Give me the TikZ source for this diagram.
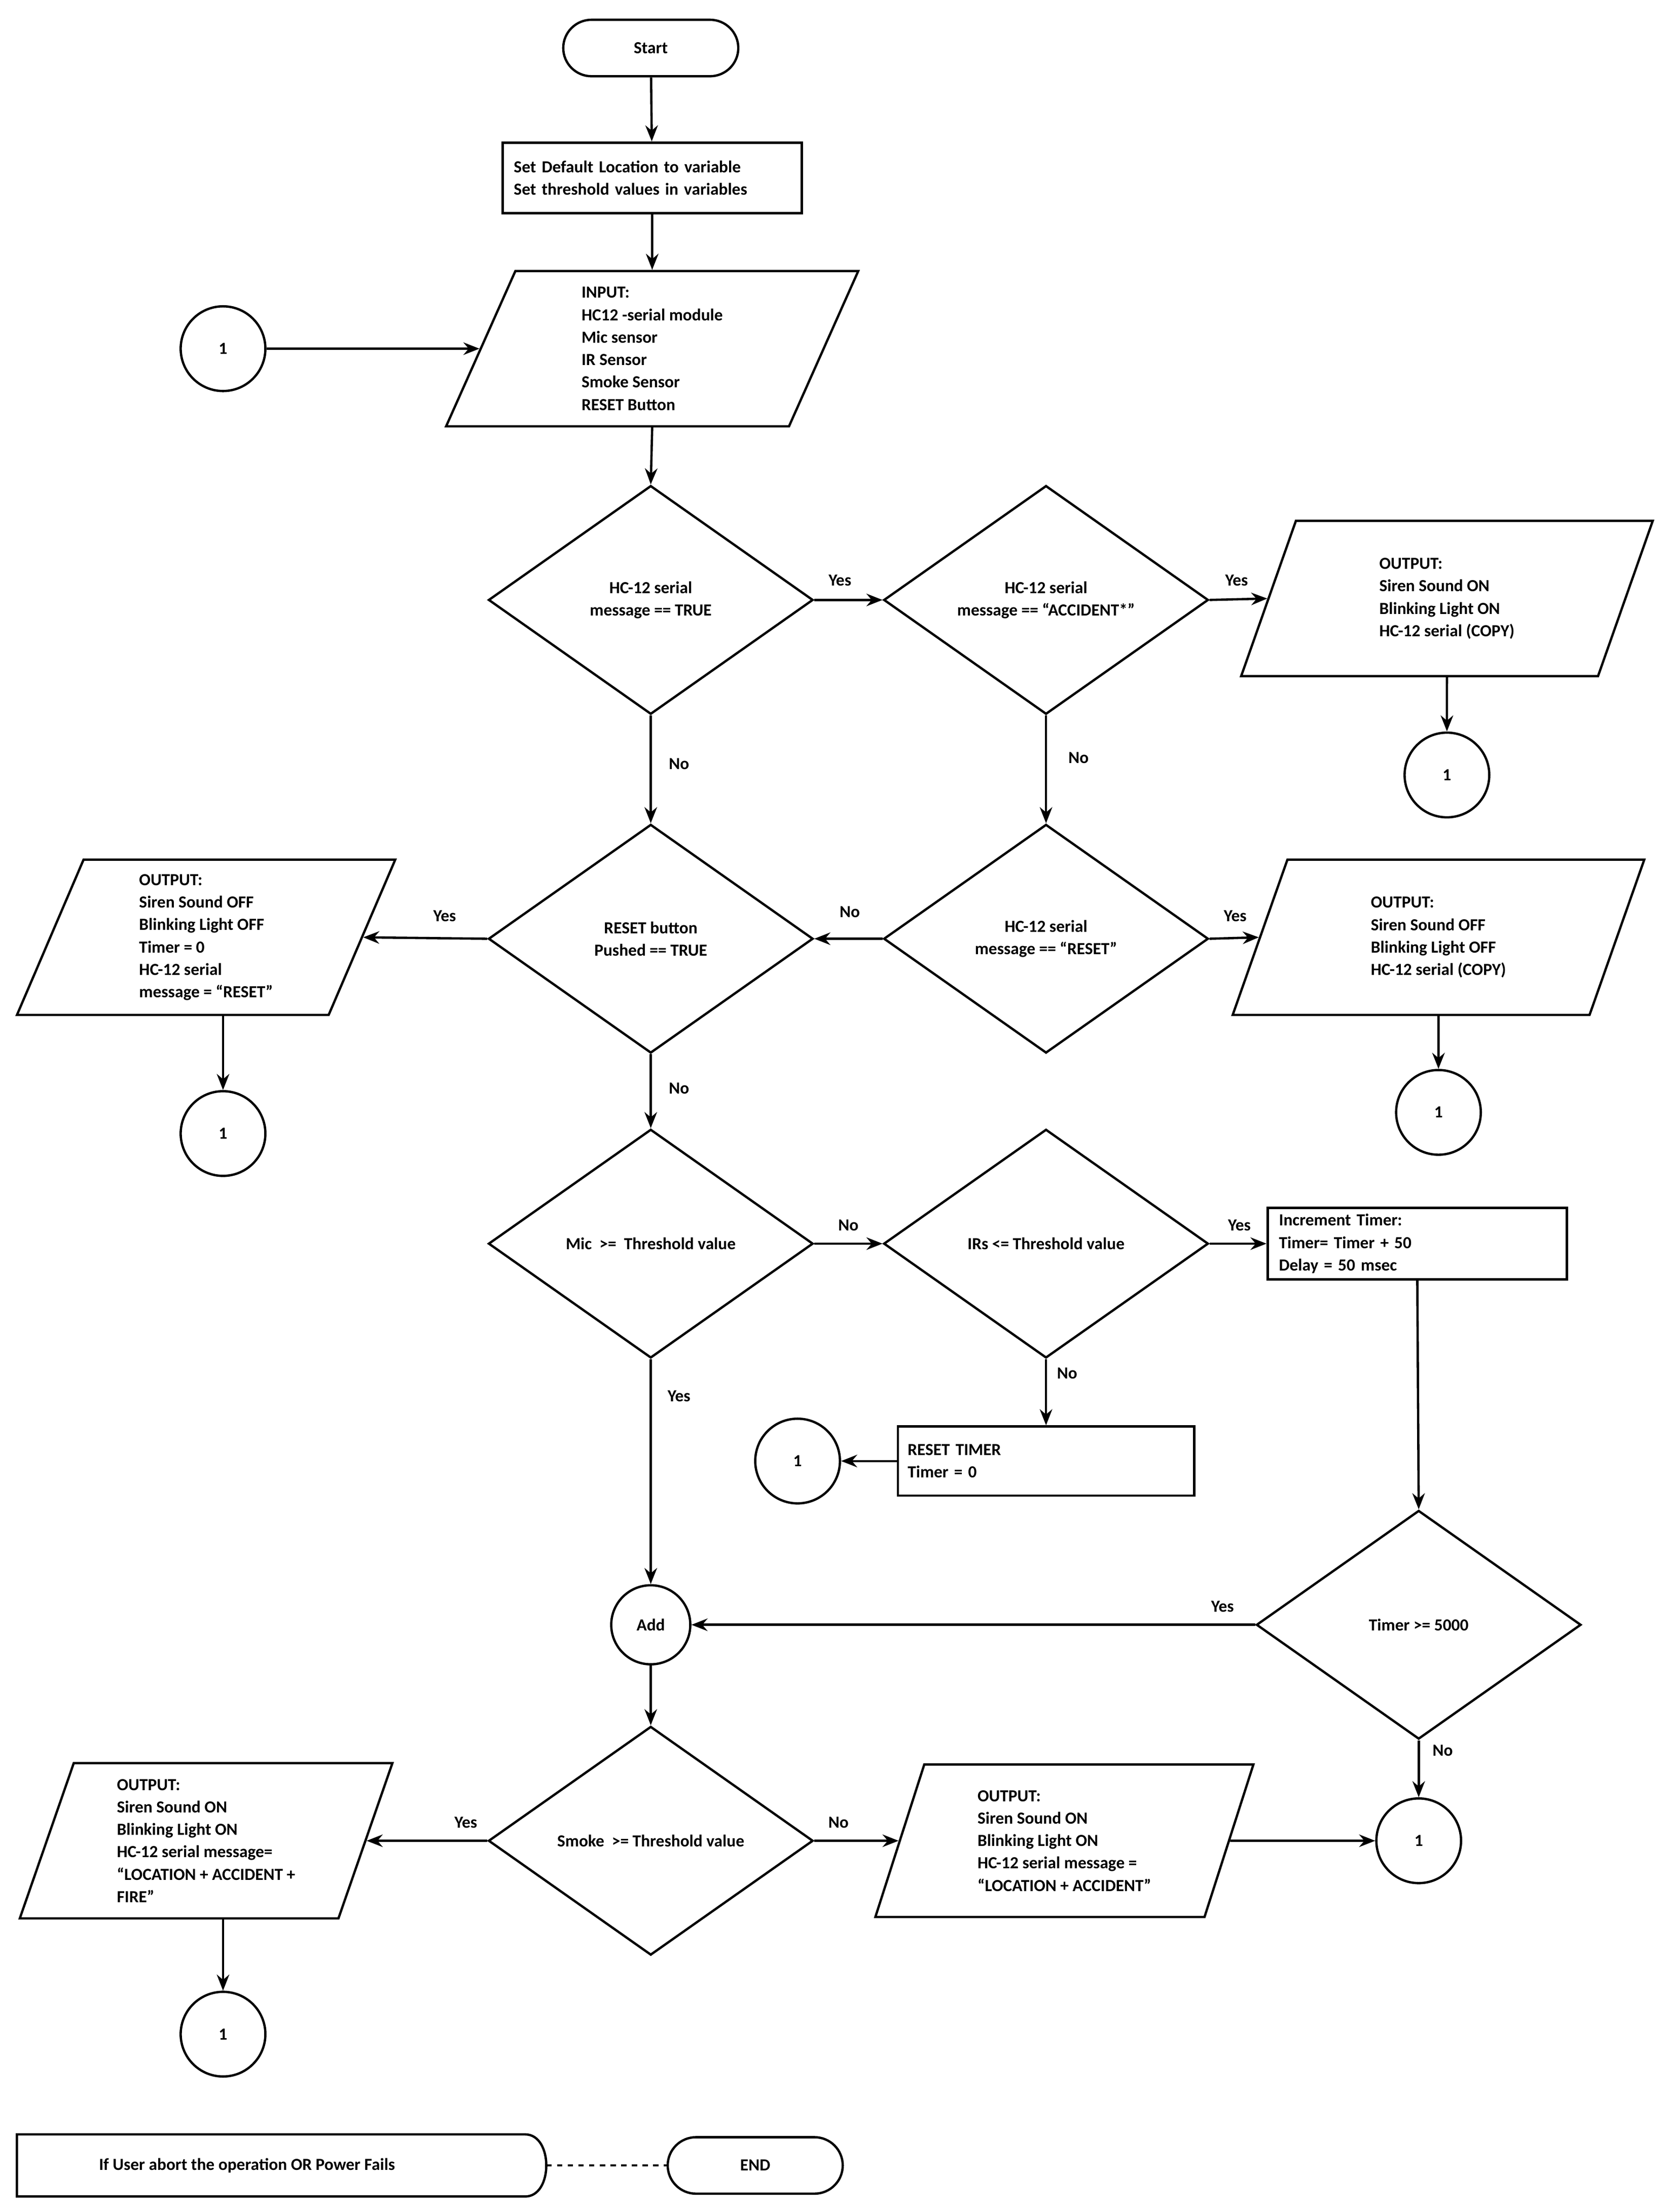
\documentclass[tikz,border=0pt]{standalone}
\usepackage{fontspec}
\setmainfont{Carlito}
\usetikzlibrary{shapes.geometric,arrows.meta}
\newcommand\pu{0.02784cm}
\begin{document}
\begin{tikzpicture}[x=0.02784cm,y=-0.02784cm,line width=1.3pt,
  every node/.style={font=\bfseries\fontsize{9.5}{12.6}\selectfont},
  arr/.style={-{Stealth[length=9pt,width=7pt]}},
  term/.style={draw,rounded corners=20*\pu,minimum width=124*\pu,minimum height=40*\pu},
  box/.style={draw,align=left,minimum width=212*\pu,minimum height=50*\pu,text width=196*\pu},
  dia/.style={draw,diamond,aspect=1.42,minimum width=230*\pu,minimum height=162*\pu,align=center,inner sep=0pt},
  para/.style={draw,trapezium,trapezium left angle=74,trapezium right angle=106,trapezium stretches=true,minimum width=292*\pu,minimum height=110*\pu,align=left},
  con/.style={draw,circle,minimum size=60*\pu,inner sep=0pt},
  lab/.style={inner sep=1pt}]
\useasboundingbox (0,0) rectangle (1180,1567);
\node[term] (start) at (461,34) {Start};
\node[box] (set) at (462,126) {Set Default Location to variable\\Set threshold values in variables};
\node[para] (in) at (462,247) {INPUT:\\HC12 -serial module\\Mic sensor\\IR Sensor\\Smoke Sensor\\RESET Button};
\node[con] (c1) at (158,247) {1};
\node[dia] (d1) at (461,425) {HC-12 serial\\message == TRUE};
\node[dia] (d2) at (741,425) {HC-12 serial\\message == ``ACCIDENT*''};
\node[para] (o1) at (1025,424) {OUTPUT:\\Siren Sound ON\\Blinking Light ON\\HC-12 serial (COPY)};
\node[con] (c2) at (1025,549) {1};
\node[dia] (d3) at (461,665) {RESET button\\Pushed == TRUE};
\node[dia] (d4) at (741,665) {HC-12 serial\\message == ``RESET''};
\node[para,minimum width=268*\pu] (oL) at (146,664) {OUTPUT:\\Siren Sound OFF\\Blinking Light OFF\\Timer = 0\\HC-12 serial\\message = ``RESET''};
\node[con] (c3) at (158,803) {1};
\node[para] (oR) at (1019,664) {OUTPUT:\\Siren Sound OFF\\Blinking Light OFF\\HC-12 serial (COPY)};
\node[con] (c4) at (1019,788) {1};
\node[dia] (d5) at (461,881) {Mic \ >= \ Threshold value};
\node[dia] (d6) at (741,881) {IRs <= Threshold value};
\node[box] (inc) at (1004,881) {Increment Timer:\\Timer= Timer + 50\\Delay = 50 msec};
\node[box,minimum width=210*\pu,minimum height=49*\pu] (rt) at (741,1035) {RESET TIMER\\Timer = 0};
\node[con] (c5) at (565,1035) {1};
\node[dia] (d8) at (1005,1151) {Timer >= 5000};
\node[draw,circle,minimum size=56*\pu,inner sep=0pt] (add) at (461,1151) {Add};
\node[dia] (d7) at (461,1304) {Smoke \ >= Threshold value};
\node[para,minimum width=264*\pu] (oL2) at (146,1304) {OUTPUT:\\Siren Sound ON\\Blinking Light ON\\HC-12 serial message=\\``LOCATION + ACCIDENT +\\FIRE''};
\node[con] (c7) at (158,1441) {1};
\node[para,minimum width=268*\pu,minimum height=108*\pu] (oM) at (754,1304) {OUTPUT:\\Siren Sound ON\\Blinking Light ON\\HC-12 serial message =\\``LOCATION + ACCIDENT''};
\node[con] (c6) at (1005,1304) {1};
\draw (12,1512) -- (372,1512) .. controls (392,1512) and (392,1556) .. (372,1556) -- (12,1556) -- cycle;
\node (ab) at (175,1534) {If User abort the operation OR Power Fails};
\coordinate (abE) at (387,1534);
\node[term] (end) at (535,1534) {END};
\draw[dashed] (abE) -- (end.west);
% connectors
\draw[arr] (start) -- (set);
\draw[arr] (set) -- (in);
\draw[arr] (c1) -- (in.west);
\draw[arr] (in.south) -- (d1.north);
\draw[arr] (d1.east) -- (d2.west);
\draw[arr] (d2.east) -- (o1.west);
\draw[arr] (o1.south) -- (c2.north);
\draw[arr] (d1.south) -- (d3.north);
\draw[arr] (d2.south) -- (d4.north);
\draw[arr] (d4.west) -- (d3.east);
\draw[arr] (d3.west) -- (oL.east);
\draw[arr] (oL.south -| c3.north) -- (c3.north);
\draw[arr] (d4.east) -- (oR.west);
\draw[arr] (oR.south) -- (c4.north);
\draw[arr] (d3.south) -- (d5.north);
\draw[arr] (d5.east) -- (d6.west);
\draw[arr] (d6.east) -- (inc.west);
\draw[arr] (d6.south) -- (rt.north);
\draw[arr] (rt.west) -- (c5.east);
\draw[arr] (inc.south) -- (d8.north);
\draw[arr] (d8.west) -- (add.east);
\draw[arr] (d5.south) -- (add.north);
\draw[arr] (d8.south) -- (c6.north);
\draw[arr] (add.south) -- (d7.north);
\draw[arr] (d7.west) -- (oL2.east);
\draw[arr] (d7.east) -- (oM.west);
\draw[arr] (oM.east) -- (c6.west);
\draw[arr] (oL2.south -| c7.north) -- (c7.north);
% labels
\node[lab] at (595,411) {Yes};
\node[lab] at (876,411) {Yes};
\node[lab] at (481,541) {No};
\node[lab] at (764,537) {No};
\node[lab] at (602,646) {No};
\node[lab] at (315,649) {Yes};
\node[lab] at (875,649) {Yes};
\node[lab] at (481,771) {No};
\node[lab] at (601,868) {No};
\node[lab] at (878,868) {Yes};
\node[lab] at (756,973) {No};
\node[lab] at (481,989) {Yes};
\node[lab] at (866,1138) {Yes};
\node[lab] at (1022,1240) {No};
\node[lab] at (330,1291) {Yes};
\node[lab] at (594,1291) {No};
\end{tikzpicture}
\end{document}
